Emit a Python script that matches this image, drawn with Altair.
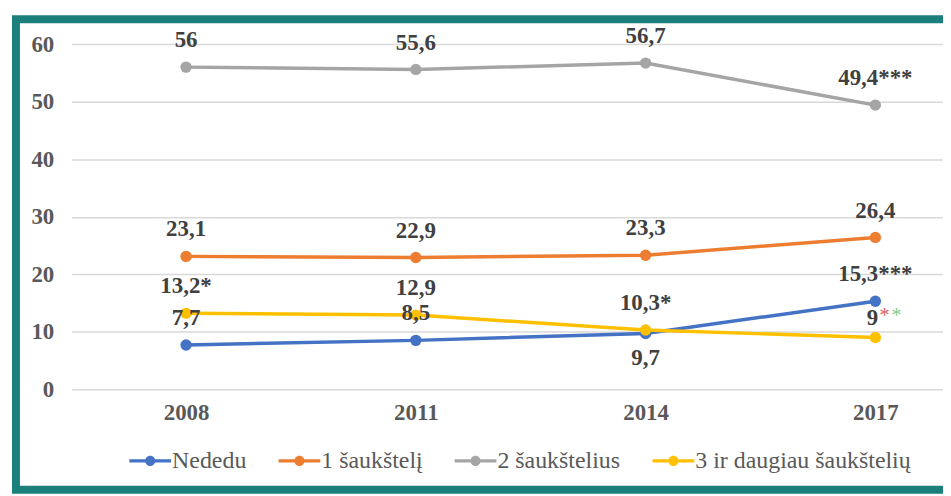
import altair as alt
import pandas as pd

years = [2008, 2011, 2014, 2017]
series = ["Nededu", "1 šaukštelį", "2 šaukštelius", "3 ir daugiau šaukštelių"]
colors = ["#4472C4", "#ED7D31", "#A5A5A5", "#FFC000"]

nededu = [7.7, 8.5, 9.7, 15.3]
vienas = [23.1, 22.9, 23.3, 26.4]
du = [56.0, 55.6, 56.7, 49.4]
trys = [13.2, 12.9, 10.3, 9.0]

lab_nededu = ["7,7", "8,5", "9,7", "15,3***"]
lab_vienas = ["23,1", "22,9", "23,3", "26,4"]
lab_du = ["56", "55,6", "56,7", "49,4***"]
lab_trys = ["13,2*", "12,9", "10,3*", "9"]

y_ticks = [0, 10, 20, 30, 40, 50, 60]

rows = []
for s, vals, labs in zip(series, [nededu, vienas, du, trys],
                         [lab_nededu, lab_vienas, lab_du, lab_trys]):
    for yr, v, lb in zip(years, vals, labs):
        rows.append({"series": s, "year": yr, "value": v, "label": lb,
                     "below": bool(s == "Nededu" and yr == 2014),
                     "special": bool(s == series[3] and yr == 2017)})
df = pd.DataFrame(rows)

FONT = "Liberation Serif"

legend_symbol = ("M-1,-0.08H1V0.08H-1Z "
                 "M0.24,0A0.24,0.24,0,1,1,-0.24,0A0.24,0.24,0,1,1,0.24,0Z")

x_enc = alt.X("year:Q",
              scale=alt.Scale(domain=[2006.506, 2017.883], nice=False, zero=False),
              axis=alt.Axis(title=None, values=years, format="d", domain=False, ticks=False,
                            grid=False, labelAngle=0, labelFontSize=23, labelFontWeight="bold",
                            labelColor="#595959", labelFont=FONT, labelPadding=12))
y_enc = alt.Y("value:Q",
              scale=alt.Scale(domain=[0, 60], nice=False, zero=True),
              axis=alt.Axis(title=None, values=y_ticks, domain=False, ticks=False,
                            labelFontSize=23, labelFontWeight="bold",
                            labelColor="#595959", labelFont=FONT, labelPadding=18,
                            gridColor="#d9d9d9", gridWidth=1.5))
color_enc = alt.Color("series:N", sort=series,
                      scale=alt.Scale(domain=series, range=colors),
                      legend=alt.Legend(title=None, orient="none", direction="horizontal",
                                        legendX=58, legendY=398,
                                        symbolType=legend_symbol, symbolSize=1764,
                                        symbolStrokeWidth=0, symbolOpacity=1,
                                        labelFont=FONT, labelFontSize=24, labelLimit=500,
                                        labelColor="#595959", labelOffset=1,
                                        columnPadding=32))

base = alt.Chart(df)

lines = base.mark_line(strokeWidth=3.5).encode(x=x_enc, y=y_enc, color=color_enc)
points = base.mark_circle(size=130, opacity=1).encode(x=x_enc, y=y_enc, color=color_enc)

text_style = dict(font=FONT, fontSize=23, fontWeight="bold", color="#404040",
                  baseline="middle", align="center")
labels_above = base.transform_filter("!datum.below && !datum.special").mark_text(
    dy=-27, **text_style).encode(x=x_enc, y=y_enc, text="label:N")
labels_below = base.transform_filter("datum.below").mark_text(
    dy=25, **text_style).encode(x=x_enc, y=y_enc, text="label:N")
label_special = base.transform_filter("datum.special").mark_text(
    dy=-20, dx=-3, **text_style).encode(x=x_enc, y=y_enc, text="label:N")

star_red = base.transform_filter("datum.special").mark_text(
    dy=-22, dx=4, font=FONT, fontSize=21, color="#E0625E", align="left",
    baseline="middle").encode(x=x_enc, y=y_enc, text=alt.value("*"))
star_green = base.transform_filter("datum.special").mark_text(
    dy=-22, dx=16, font=FONT, fontSize=21, color="#8CCB8A", align="left",
    baseline="middle").encode(x=x_enc, y=y_enc, text=alt.value("*"))

border = alt.Chart(pd.DataFrame({"a": [0]})).mark_rect(
    fill="transparent", stroke="#1b7f7c", strokeWidth=8).encode(
    x=alt.value(-56), x2=alt.value(888), y=alt.value(-25), y2=alt.value(448))

chart = alt.layer(border, lines, points, labels_above, labels_below, label_special,
                  star_red, star_green).properties(
    width=876, height=347,
    autosize=alt.AutoSizeParams(type="none"),
    padding={"left": 64, "top": 35, "right": 0, "bottom": 106},
    background="white",
).configure_view(stroke=None)

chart.save("out.html", embed_options={"renderer": "svg", "actions": False})
